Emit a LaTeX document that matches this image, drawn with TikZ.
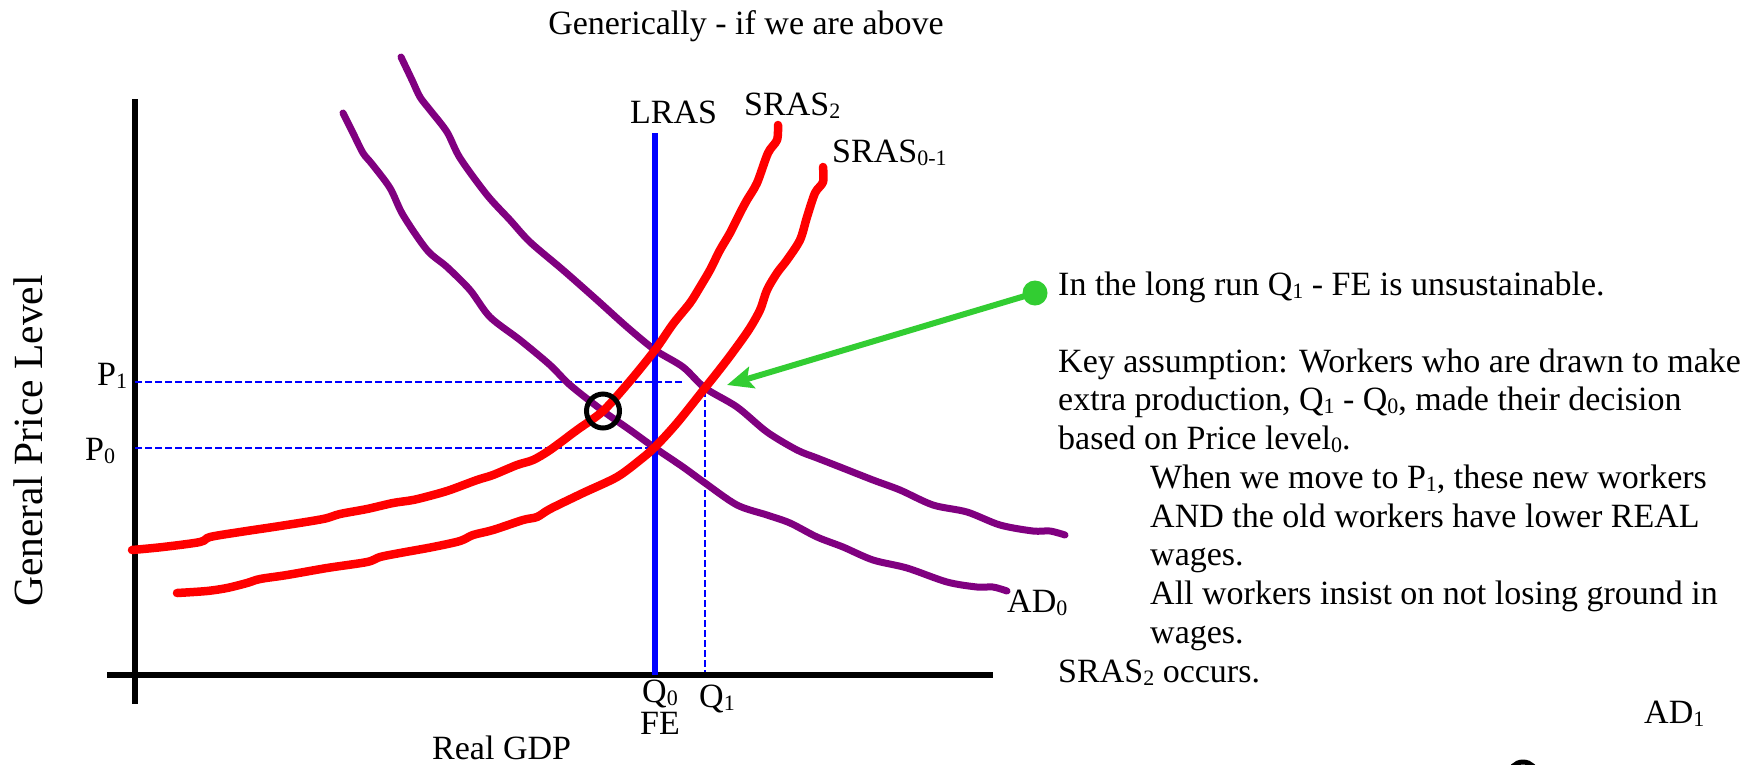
\documentclass[tikz,border=0pt]{standalone}
\usepackage{fontspec}
\setmainfont{Liberation Serif}
\usetikzlibrary{arrows.meta}
\definecolor{adpurple}{RGB}{128,0,128}
\definecolor{limeg}{RGB}{50,205,50}
\newcommand{\sbs}[1]{\raisebox{-3pt}{\fontsize{22}{22}\selectfont #1}}
\tikzset{
  txt/.style={anchor=base west, inner sep=0pt, font=\fontsize{34}{38}\selectfont},
  axis/.style={line width=6pt, black},
  adcurve/.style={line width=7pt, adpurple, line cap=round, line join=round},
  sascurve/.style={line width=8.5pt, red, line cap=round, line join=round},
  lras/.style={line width=6pt, blue},
  guide/.style={line width=2pt, blue, dash pattern=on 7pt off 3pt},
  garrow/.style={line width=6pt, limeg, -{Stealth[length=26pt,width=22pt,inset=5pt]}},
  ring/.style={line width=5pt, black},
}
\begin{document}
\begin{tikzpicture}[x=1pt,y=-1pt]
\useasboundingbox (0,0) rectangle (1760,764);
\clip (0,0) rectangle (1760,764);
\fill[white] (0,0) rectangle (1760,764);

% title
\node[txt, anchor=base] (title) at (746,34) {Generically - if we are above};

% axes
\draw[axis] (135,99) -- (135,704);
\draw[axis] (107,675) -- (993,675);

% guides
\draw[guide] (135,382) -- (683,382);
\draw[guide] (135,448) -- (650,448);
\draw[guide] (705,390) -- (705,672);

% AD curves
\draw[adcurve] plot[smooth, tension=0.5] coordinates {
 (401,57) (412,80) (420,97) (430,110) (447,132) (460,158) (487,195) (510,220) (530,242)
 (563,270) (597,300) (627,327) (655,350) (683,367) (705,388) (737,407) (767,432)
 (797,450) (817,458) (840,467) (873,480) (900,490) (933,505) (967,512) (1000,525)
 (1033,531) (1050,531) (1065,535)};
\draw[adcurve] plot[smooth, tension=0.5] coordinates {
 (343,113) (353,133) (363,153) (372,164) (390,188) (403,215) (427,250) (447,267) (470,290)
 (490,317) (520,340) (550,365) (570,385) (603,411) (630,430) (655,448) (683,467)
 (705,483) (737,505) (767,515) (790,523) (817,537) (843,547) (873,560) (907,568)
 (947,582) (977,587) (993,587) (1007,591)};

% LRAS
\draw[lras] (655,133) -- (655,675);

% SRAS curves
\draw[sascurve] plot[smooth, tension=0.5] coordinates {
 (132,550) (163,547) (200,542) (210,537) (240,532) (280,526) (323,519) (340,514)
 (367,509) (393,503) (413,500) (433,495) (450,490) (477,480) (493,475) (517,465)
 (533,460) (550,450) (577,430) (603,411) (630,381) (655,350) (673,324) (690,303)
 (700,287) (710,270) (720,250) (730,233) (740,213) (747,200) (757,183) (768,153)
 (777,140) (778,125)};
\draw[sascurve] plot[smooth, tension=0.5] coordinates {
 (177,593) (207,591) (227,588) (247,583) (260,579) (287,575) (327,568) (367,562)
 (380,557) (400,553) (433,547) (460,541) (473,535) (493,530) (523,520) (537,517)
 (550,509) (583,493) (617,477) (640,460) (655,447) (677,423) (705,388) (727,360)
 (748,331) (760,310) (767,290) (777,273) (787,260) (800,240) (807,217) (815,193)
 (823,182) (823,167)};

% rings
\draw[ring] (603,411) ellipse [x radius=16.5pt, y radius=17pt];
\draw[ring] (1523,776) circle [radius=14pt];

% green arrow
\node[circle, fill=limeg, minimum size=25pt, inner sep=0pt] (gdot) at (1035,293) {};
\coordinate (tip) at (727,385);
\draw[garrow] (gdot.center) -- (tip);

% axis labels
\node[txt] (plab1) at (97,385) {P\sbs{1}};
\node[txt] (plab0) at (85,460) {P\sbs{0}};
\node[txt] (qlab0) at (642,702) {Q\sbs{0}};
\node[txt] (felab) at (640,734) {FE};
\node[txt] (qlab1) at (699,707) {Q\sbs{1}};
\node[txt] (xlab) at (432,759) {Real GDP};
\node[anchor=base, inner sep=0pt, rotate=90, font=\fontsize{41.5}{44}\selectfont] (ylab) at (42,441) {General Price Level};

% curve labels
\node[txt] (lraslab) at (630,123) {LRAS};
\node[txt] (sras2lab) at (744,115) {SRAS\sbs{2}};
\node[txt] (sras01lab) at (832,162) {SRAS\sbs{0-1}};
\node[txt] (ad0lab) at (1007,612) {AD\sbs{0}};
\node[txt] (ad1lab) at (1644,723) {AD\sbs{1}};

% right text
\node[txt] (t1) at (1058,295) {In the long run Q\sbs{1} - FE is unsustainable.};
\node[txt] (t2) at (1058,372) {Key assumption: Workers who are drawn to make};
\node[txt] (t3) at (1058,410.75) {extra production, Q\sbs{1} - Q\sbs{0}, made their decision};
\node[txt] (t4) at (1058,449.5) {based on Price level\sbs{0}.};
\node[txt] (t5) at (1150,488.25) {When we move to P\sbs{1}, these new workers};
\node[txt] (t6) at (1150,527) {AND the old workers have lower REAL};
\node[txt] (t7) at (1150,565.75) {wages.};
\node[txt] (t8) at (1150,604.5) {All workers insist on not losing ground in};
\node[txt] (t9) at (1150,643.25) {wages.};
\node[txt] (t10) at (1058,682) {SRAS\sbs{2} occurs.};
\end{tikzpicture}
\end{document}
